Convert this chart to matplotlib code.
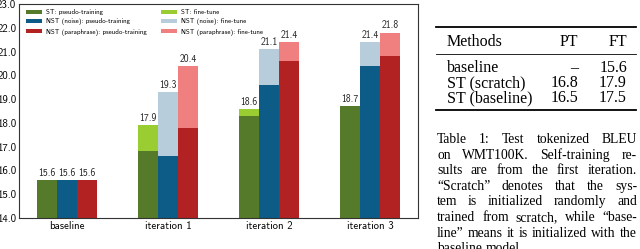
import matplotlib
matplotlib.use('Agg')
import matplotlib.pyplot as plt
from matplotlib.lines import Line2D
import numpy as np

# chart data (BLEU)
groups = ['baseline', 'iteration 1', 'iteration 2', 'iteration 3']
st_pt = [15.6, 16.8, 18.3, 18.7]
st_ft = [15.6, 17.9, 18.6, 18.7]
noise_pt = [15.6, 16.6, 19.6, 20.4]
noise_ft = [15.6, 19.3, 21.1, 21.4]
para_pt = [15.6, 17.8, 20.6, 20.8]
para_ft = [15.6, 20.4, 21.4, 21.8]

# table data
table_rows = ['baseline', 'ST (scratch)', 'ST (baseline)']
table_pt = ['\u2013', '16.8', '16.5']
table_ft = ['15.6', '17.9', '17.5']

caption = [
    'Table 1:  Test tokenized BLEU',
    'on WMT100K. Self-training re-',
    'sults are from the first iteration.',
    '\u201cScratch\u201d denotes that the sys-',
    'tem is initialized randomly and',
    'trained from scratch, while \u201cbase-',
    'line\u201d means it is initialized with the',
    'baseline model.',
]

W, H = 640, 249
fig = plt.figure(figsize=(6.4, 2.49), dpi=100)

def px(x, y):
    return x / W, 1 - y / H

sans = 'cmss10'
ax = fig.add_axes([19 / W, 31 / H, 399 / W, 214 / H])

x = np.arange(len(groups))
bw = 0.2
series = [
    (st_pt, st_ft, '#557a29', '#9acd32', 'ST'),
    (noise_pt, noise_ft, '#0d5b87', '#b7cddb', 'NST (noise)'),
    (para_pt, para_ft, '#b22222', '#f08080', 'NST (paraphrase)'),
]
pt_handles, ft_handles = [], []
for i, (pt, ft, c1, c2, name) in enumerate(series):
    xs = x + (i - 1) * bw
    pt = np.array(pt)
    ft = np.array(ft)
    h1 = ax.bar(xs, pt, bw, color=c1, label=name + ': pseudo-training')
    h2 = ax.bar(xs, ft - pt, bw, bottom=pt, color=c2, label=name + ': fine-tune')
    pt_handles.append(h1)
    ft_handles.append(h2)
    for xx, v in zip(xs, ft):
        ax.annotate('%.1f' % v, (xx, v), xytext=(0, 1.5), textcoords='offset points',
                    ha='center', va='bottom', fontsize=7, family=sans, color='#222222')

ax.set_xlim(-0.475, 3.475)
ax.set_ylim(14, 23)
ax.set_yticks(np.arange(14, 23.5, 1.0))
ax.set_yticklabels(['%.1f' % t for t in np.arange(14, 23.5, 1.0)], family=sans, fontsize=7.8)
ax.set_xticks(x)
ax.set_xticklabels(groups, family=sans, fontsize=7.8)
ax.tick_params(length=0, pad=2)
for s in ax.spines.values():
    s.set_color('#333333')
    s.set_linewidth(0.8)

ax.legend(handles=pt_handles + ft_handles, ncol=2, loc='upper left',
          bbox_to_anchor=(0.0175, 0.975), borderaxespad=0, borderpad=0,
          frameon=False, prop={'family': sans, 'size': 5},
          handlelength=2.3, handleheight=0.6, handletextpad=0.6,
          labelspacing=0.45, columnspacing=2.0)

# table at the right
serif = 'Liberation Serif'
tl, tr = 436, 636
for y, lw in [(27, 1.3), (54, 0.6), (110, 1.3)]:
    fig.add_artist(Line2D([tl / W, tr / W], [1 - y / H, 1 - y / H],
                          transform=fig.transFigure, color='black', lw=lw))
fs_tab = 11.5
fig.text(*px(447, 46), 'Methods', family=serif, fontsize=fs_tab, va='baseline')
fig.text(*px(578, 46), 'PT', family=serif, fontsize=fs_tab, va='baseline', ha='right')
fig.text(*px(627, 46), 'FT', family=serif, fontsize=fs_tab, va='baseline', ha='right')
for i, (name, p, f) in enumerate(zip(table_rows, table_pt, table_ft)):
    yb = 72 + 15 * i
    fig.text(*px(447, yb), name, family=serif, fontsize=fs_tab, va='baseline')
    fig.text(*px(578, yb), p, family=serif, fontsize=fs_tab, va='baseline', ha='right')
    fig.text(*px(627, yb), f, family=serif, fontsize=fs_tab, va='baseline', ha='right')

# justified caption
fig.canvas.draw()
r = fig.canvas.get_renderer()
cl, cr = 437, 637
fs_cap = 9.8
for i, line in enumerate(caption):
    words = line.split()
    yb = 143 + 15.6 * i
    texts = [fig.text(0, 0, w, family=serif, fontsize=fs_cap, va='baseline') for w in words]
    widths = [t.get_window_extent(r).width for t in texts]
    if i < len(caption) - 1 and len(words) > 1:
        gap = (cr - cl - sum(widths)) / (len(words) - 1)
    else:
        gap = fs_cap * 100 / 72 * 0.25
    xx = cl
    for t, w in zip(texts, widths):
        t.set_position(px(xx, yb))
        xx += w + gap

fig.savefig('out.png', dpi=100)
